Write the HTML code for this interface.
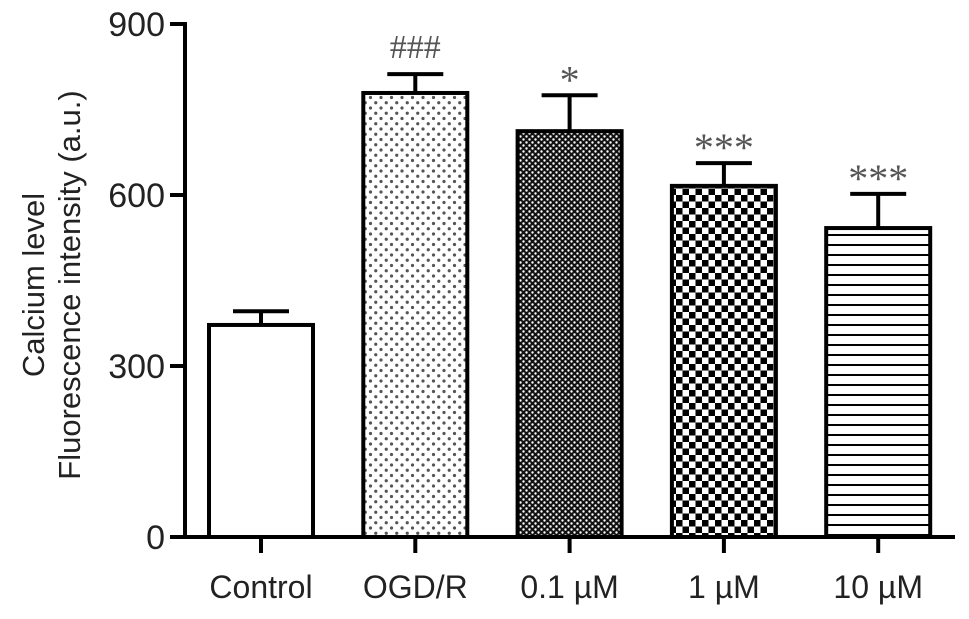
<!DOCTYPE html>
<html><head><meta charset="utf-8"><style>
html,body{margin:0;padding:0;background:#fff;}
svg{display:block;font-family:"Liberation Sans",Arial,sans-serif;}
</style></head><body>
<svg id="chart" width="969" height="619" viewBox="0 0 969 619">
<defs>
<pattern id="p-dots" width="10.5" height="10.5" patternUnits="userSpaceOnUse">
<rect width="10.5" height="10.5" fill="#fff"/><circle cx="3" cy="3" r="1.6" fill="#555"/><circle cx="8.25" cy="8.25" r="1.6" fill="#555"/>
</pattern>
<pattern id="p-fine" width="6" height="6" patternUnits="userSpaceOnUse">
<rect width="6" height="6" fill="#111"/><circle cx="1.5" cy="1.5" r="1.2" fill="#fff"/><circle cx="4.5" cy="4.5" r="1.2" fill="#fff"/>
</pattern>
<pattern id="p-check" width="13" height="13" patternUnits="userSpaceOnUse">
<rect width="13" height="13" fill="#fff"/><rect width="6.5" height="6.5" fill="#000"/><rect x="6.5" y="6.5" width="6.5" height="6.5" fill="#000"/>
</pattern>
<pattern id="p-stripe" width="10" height="10" patternUnits="userSpaceOnUse">
<rect width="10" height="10" fill="#fff"/><rect y="4" width="10" height="2" fill="#000"/>
</pattern>
</defs>
<g id="plot"></g>
<text transform="translate(44,285) rotate(-90)" text-anchor="middle" font-size="31" fill="#222">Calcium level</text>
<text transform="translate(80,285) rotate(-90)" text-anchor="middle" font-size="31" fill="#222">Fluorescence intensity (a.u.)</text>
</svg>
<script>
const categories = ["Control","OGD/R","0.1 \u00b5M","1 \u00b5M","10 \u00b5M"];
const values = [372, 779, 712, 616, 542];
const errors = [24, 33, 63, 40, 60];
const marks = ["", "###", "*", "***", "***"];
const yTicks = [0, 300, 600, 900];

const fills = ["#fff","url(#p-dots)","url(#p-fine)","url(#p-check)","url(#p-stripe)"];
const NS = "http://www.w3.org/2000/svg";
const g = document.getElementById("plot");
const x0 = 185, yBase = 537, yTop = 24, yMax = 900;
const y = v => yBase - (v / yMax) * (yBase - yTop);
const step = 154.3, firstC = 261, barW = 104;
const xc = i => firstC + i * step;
function mk(tag, attrs, parent) {
  const e = document.createElementNS(NS, tag);
  for (const k in attrs) e.setAttribute(k, attrs[k]);
  (parent || g).appendChild(e);
  return e;
}
categories.forEach((c, i) => {
  const cx = xc(i);
  const top = y(values[i]), et = y(values[i] + errors[i]);
  const ln = mk("line", {x1: cx, x2: cx, y1: top, y2: et, stroke: "#000", "stroke-width": 4});
  
  
  const cap = mk("line", {x1: cx - 28, x2: cx + 28, y1: et, y2: et, stroke: "#000", "stroke-width": 4});
  
  
  const r = mk("rect", {x: cx - barW / 2, y: top, width: barW, height: yBase - top, fill: fills[i], stroke: "#000", "stroke-width": 4});
  
  
  if (marks[i]) {
    const isHash = marks[i][0] === "#";
    const t = mk("text", {x: cx, y: et + (isHash ? -16 : -2), "text-anchor": "middle", "font-size": isHash ? 34 : 40, fill: "#555", "font-family": "Liberation Serif, serif"});
    t.textContent = marks[i];
    
    
  }
  const tk = mk("line", {x1: cx, x2: cx, y1: yBase, y2: yBase + 16, stroke: "#000", "stroke-width": 4});
  
  
  const lb = mk("text", {x: cx, y: 598, "text-anchor": "middle", "font-size": 32, fill: "#222"});
  lb.textContent = c;
  
  
});
yTicks.forEach((v, i) => {
  const tk = mk("line", {x1: x0 - 15, x2: x0, y1: y(v), y2: y(v), stroke: "#000", "stroke-width": 4});
  
  
  const lb = mk("text", {x: x0 - 20, y: y(v) + 12, "text-anchor": "end", "font-size": 34, fill: "#222"});
  lb.textContent = v;
  
  
});
const ya = mk("line", {x1: x0, x2: x0, y1: yTop - 2, y2: yBase + 2, stroke: "#000", "stroke-width": 4});


const xa = mk("line", {x1: x0 - 2, x2: 955, y1: yBase, y2: yBase, stroke: "#000", "stroke-width": 4});


</script>
</body></html>
